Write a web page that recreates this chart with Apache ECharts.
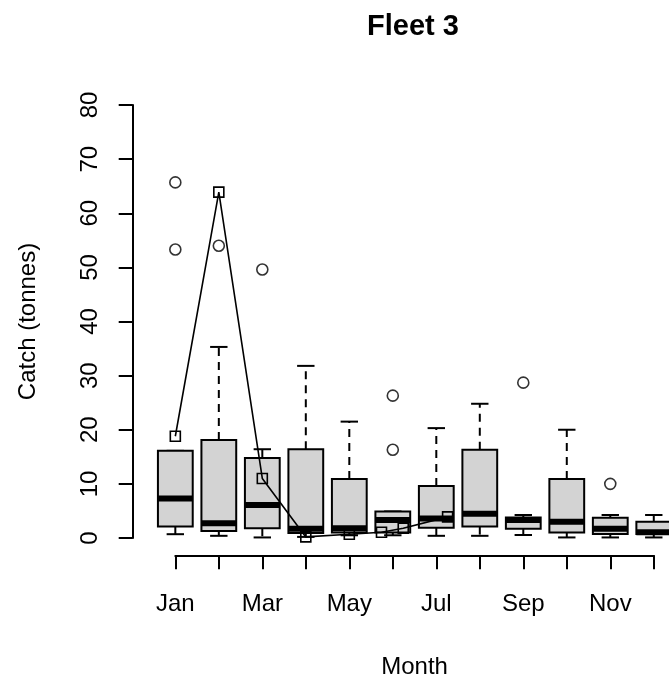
<!DOCTYPE html>
<html><head><meta charset="utf-8">
<script src="https://cdn.jsdelivr.net/npm/echarts@6/dist/echarts.min.js"></script>
<style>html,body{margin:0;padding:0;background:#fff}#c{width:669px;height:682px}</style>
</head><body><div id="c"></div>
<script>
const months = ['Jan','Feb','Mar','Apr','May','Jun','Jul','Aug','Sep','Oct','Nov','Dec'];
const lowerWhisker = [0.7, 0.4, 0.1, 0.2, 0.5, 0.5, 0.4, 0.4, 0.55, 0.1, 0.1, 0.1];
const q1           = [2.1, 1.3, 1.8, 0.9, 1.0, 1.0, 1.9, 2.1, 1.7, 1.0, 0.75, 0.75];
const median       = [7.3, 2.7, 6.1, 1.7, 1.8, 3.3, 3.6, 4.5, 3.3, 3.0, 1.7, 1.05];
const q3           = [16.1, 18.1, 14.8, 16.4, 10.9, 4.9, 9.6, 16.3, 3.8, 10.9, 3.75, 3.0];
const upperWhisker = [16.1, 35.3, 16.4, 31.8, 21.5, 4.9, 20.3, 24.8, 4.25, 20.0, 4.25, 4.25];
const outliers = [[1, 65.7], [1, 53.3], [2, 54.0], [3, 49.6], [6, 26.3], [6, 16.3], [9, 28.7], [11, 10.0]];
const observed = [[1, 18.8], [2, 63.9], [3, 11.0], [4, 0.2], [5, 0.7], [5.74, 1.07], [6.24, 1.8], [7.26, 3.9]];
const yMin = 0, yMax = 80, yStep = 10;

const boxData = months.map((m, i) => [i + 1, lowerWhisker[i], q1[i], median[i], q3[i], upperWhisker[i]]);
const FONT = 'Liberation Sans, Arial, sans-serif';

function renderBox(params, api) {
  const x = api.value(0);
  const cx = api.coord([x, 0])[0];
  const y = i => api.coord([x, api.value(i)])[1];
  const halfW = api.size([0.8, 0])[0] / 2;
  const capW = halfW / 2;
  const yLw = y(1), yQ1 = y(2), yMed = y(3), yQ3 = y(4), yUw = y(5);
  const solid = { stroke: '#000', lineWidth: 2, fill: null };
  const dashed = { stroke: '#000', lineWidth: 2, lineDash: [8, 6], fill: null };
  return {
    type: 'group',
    children: [
      { type: 'line', shape: { x1: cx, y1: yQ3, x2: cx, y2: yUw }, style: dashed },
      { type: 'line', shape: { x1: cx, y1: yQ1, x2: cx, y2: yLw }, style: dashed },
      { type: 'line', shape: { x1: cx - capW, y1: yUw, x2: cx + capW, y2: yUw }, style: solid },
      { type: 'line', shape: { x1: cx - capW, y1: yLw, x2: cx + capW, y2: yLw }, style: solid },
      { type: 'rect', shape: { x: cx - halfW, y: yQ3, width: 2 * halfW, height: yQ1 - yQ3 },
        style: { fill: '#d3d3d3', stroke: '#000', lineWidth: 2 } },
      { type: 'line', shape: { x1: cx - halfW, y1: yMed, x2: cx + halfW, y2: yMed },
        style: { stroke: '#000', lineWidth: 6 } }
    ]
  };
}

const chart = echarts.init(document.getElementById('c'), null, { renderer: 'canvas' });
chart.setOption({
  animation: false,
  backgroundColor: '#fff',
  title: {
    text: 'Fleet 3', left: 362, top: 7,
    textStyle: { fontFamily: FONT, fontWeight: 'bold', fontSize: 29, color: '#000' }
  },
  grid: [
    { left: 132.7, width: 563.7, top: 87.7, bottom: 126.7, outerBoundsMode: 'none', containLabel: false },
    { left: 132.7, width: 1, top: 105, bottom: 144, outerBoundsMode: 'none' },
    { left: 175.3, width: 478.5, top: 545.3, bottom: 126.7, outerBoundsMode: 'none' }
  ],
  xAxis: [
    { gridIndex: 0, type: 'value', min: 0.02, max: 12.98, show: false },
    { gridIndex: 1, type: 'value', show: false },
    { gridIndex: 2, type: 'category', data: months, boundaryGap: false,
      axisLine: { lineStyle: { color: '#000', width: 2 } },
      axisTick: { length: 14, lineStyle: { color: '#000', width: 2 }, interval: 0 },
      axisLabel: { interval: 1, fontSize: 24, fontFamily: FONT, color: '#000', margin: 37 },
      splitLine: { show: false },
      name: 'Month', nameLocation: 'middle', nameGap: 100,
      nameTextStyle: { fontSize: 24, fontFamily: FONT, color: '#000' } }
  ],
  yAxis: [
    { gridIndex: 0, type: 'value', min: -3.2, max: 83.2, show: false },
    { gridIndex: 1, type: 'value', min: yMin, max: yMax, interval: yStep,
      axisLine: { show: true, lineStyle: { color: '#000', width: 2 } },
      axisTick: { show: true, length: 14, lineStyle: { color: '#000', width: 2 } },
      axisLabel: { rotate: 90, fontSize: 24, fontFamily: FONT, color: '#000', margin: 30 },
      splitLine: { show: false },
      name: 'Catch (tonnes)', nameLocation: 'middle', nameGap: 92, nameRotate: 90,
      nameTextStyle: { fontSize: 24, fontFamily: FONT, color: '#000' } },
    { gridIndex: 2, type: 'value', show: false }
  ],
  series: [
    { type: 'custom', xAxisIndex: 0, yAxisIndex: 0, data: boxData, renderItem: renderBox,
      encode: { x: 0, y: [1, 2, 3, 4, 5] }, clip: false, z: 2 },
    { type: 'scatter', xAxisIndex: 0, yAxisIndex: 0, data: outliers, symbol: 'circle', symbolSize: 11,
      itemStyle: { color: 'rgba(0,0,0,0)', borderColor: '#000', borderWidth: 1.6 }, z: 3 },
    { type: 'line', xAxisIndex: 0, yAxisIndex: 0, data: observed, symbol: 'rect', symbolSize: 10,
      showAllSymbol: true,
      lineStyle: { color: '#000', width: 1.6 },
      itemStyle: { color: 'rgba(0,0,0,0)', borderColor: '#000', borderWidth: 1.6 }, z: 4 }
  ]
});
</script></body></html>
